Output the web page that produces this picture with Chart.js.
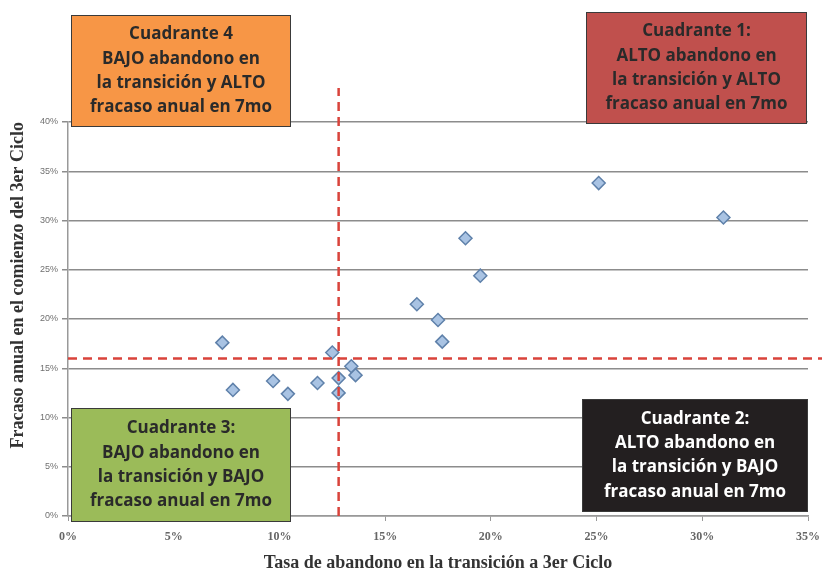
<!DOCTYPE html>
<html>
<head>
<meta charset="utf-8">
<script src="https://cdn.jsdelivr.net/npm/chart.js@4.4.0/dist/chart.umd.min.js"></script>
<style>
  html, body { margin: 0; padding: 0; background: #fff; }
  #wrap { position: relative; width: 822px; height: 574px; }
  canvas { display: block; }
</style>
</head>
<body>
<div id="wrap"><canvas id="c" width="822" height="574"></canvas></div>
<script>
// ---- data (percent values) ----
const abandono = [7.3, 7.8, 9.7, 10.4, 11.8, 12.5, 12.8, 12.8, 13.4, 13.6, 16.5, 17.5, 17.7, 18.8, 19.5, 25.1, 31.0];
const fracaso  = [17.6, 12.8, 13.7, 12.4, 13.5, 16.6, 14.0, 12.5, 15.2, 14.3, 21.5, 19.9, 17.7, 28.2, 24.4, 33.8, 30.3];
const umbralAbandono = 12.8;   // vertical dashed line
const umbralFracaso = 16.0;    // horizontal dashed line
const xTitle = 'Tasa de abandono en la transición a 3er Ciclo';
const yTitle = 'Fracaso anual en el comienzo del 3er Ciclo';
const cuadranteTitulos = ['Cuadrante 4', 'Cuadrante 1:', 'Cuadrante 3:', 'Cuadrante 2:'];
const cuadranteTextos = [
  ['BAJO abandono en', 'la transición y ALTO', 'fracaso anual en 7mo'],
  ['ALTO abandono en', 'la transición y ALTO', 'fracaso anual en 7mo'],
  ['BAJO abandono en', 'la transición y BAJO', 'fracaso anual en 7mo'],
  ['ALTO abandono en', 'la transición y BAJO', 'fracaso anual en 7mo']
];

// ---- layout / style ----
const boxStyle = [
  { rect: [71, 15, 291, 127], fill: '#F79646', text: '#2a2a2a' },
  { rect: [586, 12, 807, 124], fill: '#C0504D', text: '#2a2a2a' },
  { rect: [71, 408, 291, 522], fill: '#9BBB59', text: '#2a2a2a' },
  { rect: [582, 399, 808, 512], fill: '#231F20', text: '#ffffff' }
];

const points = abandono.map((x, i) => ({ x: x, y: fracaso[i] }));

const refLines = {
  id: 'refLines',
  afterDatasetsDraw(chart) {
    const { ctx, chartArea, scales } = chart;
    const xp = scales.x.getPixelForValue(umbralAbandono);
    const yp = scales.y.getPixelForValue(umbralFracaso);
    ctx.save();
    ctx.strokeStyle = '#D9433B';
    ctx.lineWidth = 2.5;
    ctx.setLineDash([9, 6]);
    ctx.beginPath();
    ctx.moveTo(chartArea.left, yp);
    ctx.lineTo(chart.width, yp);
    ctx.stroke();
    ctx.beginPath();
    ctx.moveTo(xp, chartArea.bottom);
    ctx.lineTo(xp, chartArea.top - 34);
    ctx.stroke();
    ctx.restore();
  }
};

const boxes = {
  id: 'boxes',
  afterDraw(chart) {
    const ctx = chart.ctx;
    ctx.save();
    boxStyle.forEach((b, i) => {
      const [x0, y0, x1, y1] = b.rect;
      ctx.fillStyle = b.fill;
      ctx.fillRect(x0, y0, x1 - x0, y1 - y0);
      ctx.strokeStyle = '#3a3a3a';
      ctx.lineWidth = 1;
      ctx.strokeRect(x0 + 0.5, y0 + 0.5, x1 - x0 - 1, y1 - y0 - 1);
      const lines = [cuadranteTitulos[i]].concat(cuadranteTextos[i]);
      const lh = 24.3;
      const cx = (x0 + x1) / 2;
      const cy = (y0 + y1) / 2;
      ctx.fillStyle = b.text;
      ctx.font = 'bold 17px "Open Sans", sans-serif';
      ctx.textAlign = 'center';
      ctx.textBaseline = 'middle';
      lines.forEach((t, k) => {
        ctx.fillText(t, cx, cy + (k - (lines.length - 1) / 2) * lh);
      });
    });
    ctx.restore();
  }
};

new Chart(document.getElementById('c'), {
  type: 'scatter',
  data: {
    datasets: [{
      data: points,
      pointStyle: 'rectRot',
      pointRadius: 6.5,
      pointHoverRadius: 6.5,
      backgroundColor: '#A9C3E3',
      borderColor: '#5F81AA',
      borderWidth: 1.5
    }]
  },
  options: {
    responsive: false,
    animation: false,
    devicePixelRatio: 1,
    layout: { padding: { left: 0, right: 14, top: 122, bottom: 0 } },
    plugins: { legend: { display: false }, tooltip: { enabled: false } },
    scales: {
      x: {
        type: 'linear', min: 0, max: 35,
        afterFit(s) { s.height = 58; s.paddingRight = 0; s.paddingLeft = 0; },
        ticks: {
          stepSize: 5, padding: 9,
          color: '#666',
          font: { family: '"Liberation Serif", serif', size: 12, weight: 'bold' },
          callback: v => v + '%'
        },
        grid: { drawOnChartArea: false, drawTicks: true, tickLength: 5, color: '#999' },
        border: { display: true, color: '#999', width: 1.5 },
        title: {
          display: true, text: xTitle, color: '#333',
          font: { family: '"Liberation Serif", serif', size: 18, weight: 'bold' },
          padding: { top: 0, bottom: 0 }
        }
      },
      y: {
        min: 0, max: 40,
        afterFit(s) { s.width = 68; s.paddingTop = 0; s.paddingBottom = 0; },
        ticks: {
          stepSize: 5, padding: 4,
          color: '#707070',
          font: { family: '"Liberation Sans", Arial, sans-serif', size: 9 },
          callback: v => v + '%'
        },
        grid: { color: '#8c8c8c', lineWidth: 1.5, drawTicks: true, tickLength: 6 },
        border: { display: true, color: '#999', width: 1.5 },
        title: {
          display: true, text: yTitle, color: '#333', align: 'end',
          font: { family: '"Liberation Serif", serif', size: 18, weight: 'bold' },
          padding: { top: 8, bottom: 0 }
        }
      }
    }
  },
  plugins: [refLines, boxes]
});
</script>
</body>
</html>
